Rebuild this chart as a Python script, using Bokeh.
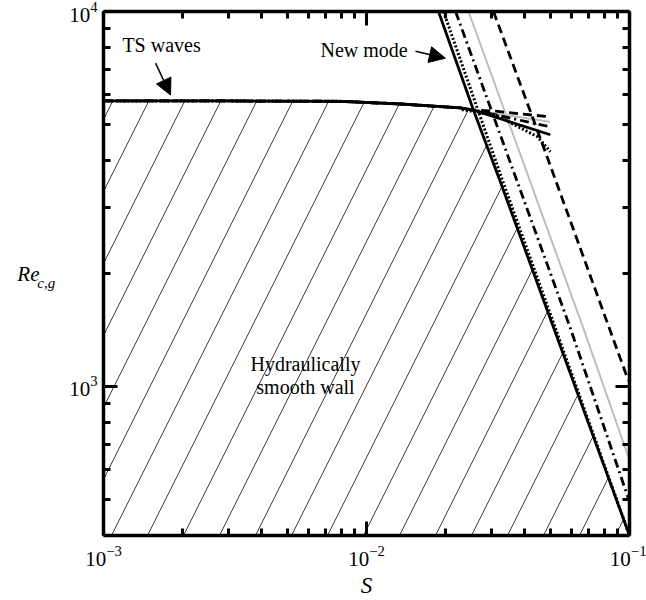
from bokeh.plotting import figure
from bokeh.models import (LogAxis, FixedTicker, Label, Arrow, NormalHead,
                          CustomJSTickFormatter, Range1d)
from bokeh.embed import file_html
from bokeh.resources import INLINE

# --- data -------------------------------------------------------------------
# TS-wave branch shared by all cases, up to the crossing with the new mode
ts_S = [0.001, 0.003, 0.008, 0.0135, 0.0175, 0.0228, 0.0255]
ts_Re = [5772, 5772, 5760, 5666, 5597, 5530, 5458]

# TS-wave branch beyond the crossing, one per case
ts_tail_S = {
    "solid":   [0.0255, 0.05],
    "dashed":  [0.0255, 0.031, 0.05],
    "grey":    [0.0255, 0.05],
    "dashdot": [0.0255, 0.05],
    "dotted":  [0.0228, 0.0309, 0.0447, 0.05],
}
ts_tail_Re = {
    "solid":   [5458, 4690],
    "dashed":  [5458, 5420, 5233],
    "grey":    [5458, 5076],
    "dashdot": [5458, 4923],
    "dotted":  [5480, 5298, 4633, 4227],
}

# new-mode branch, one per case
nm_S = {
    "solid":   [0.01878, 0.0255, 0.03204, 0.1],
    "dotted":  [0.01963, 0.0328, 0.1],
    "dashdot": [0.02181, 0.05967, 0.1],
    "grey":    [0.02443, 0.06685, 0.1],
    "dashed":  [0.0304, 0.04751, 0.0983, 0.1],
}
nm_Re = {
    "solid":   [10000, 5458, 3562, 400],
    "dotted":  [10000, 3562, 400],
    "dashdot": [10000, 1425, 492],
    "grey":    [10000, 1425, 636],
    "dashed":  [10000, 4279, 1050, 1030],
}

x_major = [1e-3, 1e-2, 1e-1]
x_minor = [k * 10.0 ** e for e in (-3, -2) for k in range(2, 10)]
y_major = [1e3, 1e4]
y_minor = [k * 100 for k in range(4, 10)] + [k * 1000 for k in range(2, 10)]

styles = {
    "solid":   dict(line_color="black", line_width=2.8),
    "dotted":  dict(line_color="black", line_width=3, line_dash="2 2"),
    "dashdot": dict(line_color="black", line_width=2.8, line_dash="9 4 2 4"),
    "grey":    dict(line_color="#bdbdbd", line_width=2),
    "dashed":  dict(line_color="black", line_width=2.8, line_dash="9 5"),
}

FONT = "Liberation Serif"

p = figure(width=646, height=600, x_axis_type="log", y_axis_type="log",
           x_range=Range1d(1e-3, 1e-1), y_range=Range1d(400, 1e4),
           output_backend="svg", toolbar_location=None,
           min_border_left=103, min_border_right=17,
           min_border_top=11, min_border_bottom=63)
p.grid.visible = False
p.outline_line_color = None
p.background_fill_color = "white"
p.border_fill_color = "white"

# hatched region under the stability boundary
hatch_x = ts_S + nm_S["solid"][2:] + [0.001]
hatch_y = ts_Re + nm_Re["solid"][2:] + [400]
p.patch(hatch_x, hatch_y, fill_color=None, line_color=None,
        hatch_pattern="/", hatch_scale=72, hatch_color="#3a3a3a", hatch_weight=1)

# curves
for key in ["grey", "dashed", "dashdot", "dotted", "solid"]:
    st = styles[key]
    p.line(ts_S[:-1] + ts_tail_S[key], ts_Re[:-1] + ts_tail_Re[key], **st)
    p.line(nm_S[key], nm_Re[key], **st)


def style_axis(ax, major, minor, labels=True):
    ax.ticker = FixedTicker(ticks=major, minor_ticks=minor)
    ax.axis_line_width = 3.5
    ax.axis_line_color = "black"
    ax.major_tick_in = 14
    ax.major_tick_out = 0
    ax.minor_tick_in = 7
    ax.minor_tick_out = 0
    ax.major_tick_line_width = 3
    ax.minor_tick_line_width = 3
    ax.major_label_text_font = FONT
    ax.major_label_text_font_size = "21px"
    ax.major_label_text_color = "black"
    ax.major_label_standoff = 6
    ax.axis_label_text_font = FONT
    ax.axis_label_text_font_style = "italic"
    ax.axis_label_text_color = "black"
    if not labels:
        ax.formatter = CustomJSTickFormatter(code="return ''")
        ax.major_label_text_font_size = "0px"
        ax.major_label_standoff = 0


xa = p.xaxis[0]
ya = p.yaxis[0]
style_axis(xa, x_major, x_minor)
style_axis(ya, y_major, y_minor)
xa.major_label_standoff = 10

# x title
xa.axis_label = "S"
xa.axis_label_text_font_size = "23px"
xa.axis_label_standoff = 4

# y title: subscript on the tick-label axis, base symbol on an outer axis
ya.axis_label = "\nc,g"
ya.axis_label_orientation = "horizontal"
ya.axis_label_text_font_size = "15px"
ya.axis_label_standoff = 11

ya_outer = LogAxis()
style_axis(ya_outer, y_major, y_minor, labels=False)
ya_outer.axis_line_color = None
ya_outer.major_tick_line_color = None
ya_outer.minor_tick_line_color = None
ya_outer.axis_label = "Re"
ya_outer.axis_label_orientation = "horizontal"
ya_outer.axis_label_text_font_size = "21px"
ya_outer.axis_label_standoff = -5
p.add_layout(ya_outer, "left")

top = LogAxis()
right = LogAxis()
style_axis(top, x_major, x_minor, labels=False)
style_axis(right, y_major, y_minor, labels=False)
p.add_layout(top, "above")
p.add_layout(right, "right")


def note(x, y, text, align="left"):
    p.add_layout(Label(x=x, y=y, text=text, text_font=FONT, text_color="black",
                       text_font_size="20px", text_baseline="middle",
                       text_align=align))


def pointer(x0, y0, x1, y1):
    p.add_layout(Arrow(x_start=x0, y_start=y0, x_end=x1, y_end=y1,
                       line_width=1.5, line_color="black",
                       end=NormalHead(size=16, fill_color="black",
                                      line_color="black")))


note(0.00118, 8124, "TS waves")
pointer(0.001577, 7281, 0.001798, 5987)
note(0.006686, 7880, "New mode")
pointer(0.01536, 7832, 0.01995, 7505)
note(0.005862, 1144, "Hydraulically", "center")
note(0.005862, 994, "smooth wall", "center")

open("out.html", "w").write(file_html(p, INLINE))
